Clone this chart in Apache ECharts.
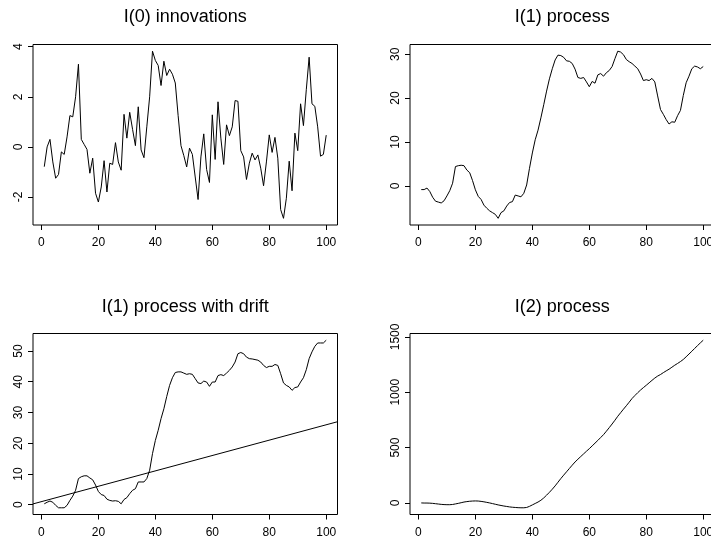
<!DOCTYPE html>
<html>
<head>
<meta charset="utf-8">
<script src="https://cdn.jsdelivr.net/npm/echarts@6/dist/echarts.min.js"></script>
<style>
  html, body { margin: 0; padding: 0; background: #fff; }
  #chart { width: 711px; height: 542px; }
</style>
</head>
<body>
<div id="chart"></div>
<script>
// Time index t = 1..100 shared by all four series
const timeIndex = Array.from({ length: 100 }, (_, i) => i + 1);

// White-noise innovations
const innovations = [
  -0.79, 0.0, 0.3, -0.6, -1.25, -1.1, -0.2, -0.3, 0.4, 1.25,
  1.2, 2.0, 3.3, 0.3, 0.1, -0.1, -1.05, -0.45, -1.85, -2.2,
  -1.6, -0.55, -1.8, -0.65, -0.7, 0.17, -0.6, -0.93, 1.3, 0.35,
  1.38, 0.7, 0.05, 1.6, -0.12, -0.43, 0.8, 2.0, 3.82, 3.45,
  3.25, 2.45, 3.42, 2.85, 3.1, 2.9, 2.55, 1.25, 0.05, -0.35,
  -0.8, -0.05, -0.3, -1.2, -2.1, -0.4, 0.52, -0.9, -1.42, 1.28,
  -0.5, 1.8, 0.35, -0.7, 0.88, 0.45, 0.8, 1.85, 1.82, -0.15,
  -0.4, -1.3, -0.65, -0.25, -0.52, -0.32, -0.85, -1.55, -0.6, 0.48,
  -0.22, 0.38, -0.45, -2.5, -2.85, -2.05, -0.57, -1.75, 0.55, -0.15,
  1.72, 0.85, 2.28, 3.58, 1.72, 1.62, 0.8, -0.37, -0.3, 0.47
];

// Random walk
const i1Process = [
  -0.85, -0.85, -0.5, -1.3, -2.6, -3.5, -3.7, -3.9, -3.4, -2.3,
  -1.1, 0.6, 4.4, 4.6, 4.7, 4.6, 3.6, 3.0, 1.2, -0.9,
  -2.4, -3.1, -4.4, -5.1, -5.7, -6.1, -6.5, -7.4, -6.1, -5.7,
  -4.6, -3.8, -3.6, -2.1, -2.3, -2.5, -1.7, 0.2, 4.0, 7.5,
  10.5, 12.7, 15.5, 18.5, 21.6, 24.4, 26.7, 28.7, 29.8, 29.7,
  29.3, 28.5, 28.4, 27.9, 26.6, 24.7, 24.5, 24.7, 23.7, 22.6,
  23.8, 23.4, 25.3, 25.6, 25.0, 25.8, 26.3, 27.2, 29.0, 30.7,
  30.5, 29.9, 28.8, 28.3, 27.9, 27.3, 26.7, 25.5, 24.0, 24.2,
  24.0, 24.5, 23.7, 20.5, 17.4, 16.3, 15.1, 14.1, 14.6, 14.5,
  16.0, 17.2, 20.6, 23.5, 25.0, 26.7, 27.3, 27.1, 26.7, 27.2
];

// Random walk with drift
const i1Drift = [
  0.3, 0.8, 1.2, 0.8, -0.2, -1.0, -1.0, -1.0, -0.2, 1.4,
  2.8, 4.7, 8.5, 9.1, 9.4, 9.4, 8.7, 8.1, 6.4, 4.3,
  3.3, 3.0, 1.8, 1.4, 1.2, 1.3, 1.1, 0.3, 1.7, 2.3,
  3.6, 4.7, 5.2, 7.4, 7.4, 7.4, 8.5, 11.2, 16.6, 20.9,
  24.2, 28.0, 31.2, 35.2, 38.8, 41.3, 43.0, 43.2, 43.2, 42.8,
  42.4, 42.6, 42.4, 41.0, 39.6, 39.4, 40.2, 39.9, 38.5, 39.9,
  39.9, 42.0, 42.3, 42.0, 42.8, 43.7, 44.8, 46.4, 49.1, 49.5,
  49.1, 48.0, 47.5, 47.4, 47.2, 47.0, 46.4, 45.3, 44.6, 45.0,
  45.0, 45.6, 45.3, 42.6, 39.6, 38.8, 38.3, 37.2, 38.1, 38.3,
  39.9, 41.3, 43.9, 47.5, 49.7, 51.5, 52.6, 52.6, 52.6, 53.5
];

// Straight reference line drawn over the drift panel
const driftLineIntercept = 1;
const driftLineSlope = 0.25;

// Integrated random walk
const i2Process = [
  0, -1, -1, -2, -4, -7, -10, -13, -15, -16,
  -16, -14, -9, -4, 2, 8, 12, 15, 17, 18,
  17, 14, 10, 5, 0, -6, -12, -18, -23, -28,
  -32, -36, -39, -41, -43, -44, -44, -41, -31, -18,
  -5, 8, 24, 45, 70, 96, 124, 154, 187, 220,
  251, 281, 311, 341, 370, 395, 419, 443, 467, 490,
  515, 540, 565, 591, 617, 648, 680, 713, 747, 783,
  815, 847, 878, 910, 943, 970, 996, 1020, 1042, 1063,
  1085, 1107, 1128, 1146, 1160, 1177, 1193, 1208, 1226, 1244,
  1260, 1277, 1296, 1320, 1345, 1370, 1396, 1421, 1446, 1470
];

// Tick positions
const xTicks = [0, 20, 40, 60, 80, 100];
const yTicksInnovations = [-2, 0, 2, 4];
const yTicksI1 = [0, 10, 20, 30];
const yTicksDrift = [0, 10, 20, 30, 40, 50];
const yTicksI2 = [0, 500, 1000, 1500];

// Panel titles
const panelTitles = ['I(0) innovations', 'I(1) process', 'I(1) process with drift', 'I(2) process'];

const FONT = "'Liberation Sans', Arial, Helvetica, sans-serif";

// Axis extent padded by 4% on each side, like base graphics
function paddedRange(values) {
  const lo = Math.min(...values);
  const hi = Math.max(...values);
  const pad = (hi - lo) * 0.04;
  return [lo - pad, hi + pad];
}

const xRange = paddedRange(timeIndex);

// Plot boxes (pixels)
const boxes = [
  { left: 33, top: 44.5, width: 304.5, height: 180.5 },
  { left: 410, top: 44.5, width: 304.5, height: 180.5 },
  { left: 33, top: 333.5, width: 304.5, height: 181 },
  { left: 410, top: 333.5, width: 304.5, height: 181 }
];
const titleTops = [8.5, 8.5, 298.5, 298.5];

const panels = [
  { values: innovations, yTicks: yTicksInnovations },
  { values: i1Process, yTicks: yTicksI1 },
  { values: i1Drift, yTicks: yTicksDrift },
  { values: i2Process, yTicks: yTicksI2 }
];

const plainNumber = v => String(v);

const grid = [], xAxis = [], yAxis = [], series = [], title = [];

panels.forEach((p, k) => {
  const b = boxes[k];
  grid.push({
    left: b.left, top: b.top, width: b.width, height: b.height,
    show: true, borderColor: '#000', borderWidth: 1,
    backgroundColor: 'transparent',
    containLabel: false, outerBoundsMode: 'none'
  });
  xAxis.push({
    type: 'value', gridIndex: k, position: 'bottom',
    min: xRange[0], max: xRange[1],
    axisLine: { show: false, onZero: false },
    splitLine: { show: false },
    axisTick: { show: true, inside: false, length: 5, customValues: xTicks,
                lineStyle: { color: '#000', width: 1 } },
    axisLabel: { show: true, customValues: xTicks, margin: 12, formatter: plainNumber,
                 color: '#000', fontSize: 12, fontFamily: FONT }
  });
  const yr = paddedRange(p.values);
  yAxis.push({
    type: 'value', gridIndex: k, position: 'left',
    min: yr[0], max: yr[1],
    axisLine: { show: false, onZero: false },
    splitLine: { show: false },
    axisTick: { show: true, inside: false, length: 5, customValues: p.yTicks,
                lineStyle: { color: '#000', width: 1 } },
    axisLabel: { show: true, customValues: p.yTicks, rotate: 90, margin: 8, formatter: plainNumber,
                 color: '#000', fontSize: 12, fontFamily: FONT }
  });
  series.push({
    type: 'line', xAxisIndex: k, yAxisIndex: k,
    data: timeIndex.map((t, i) => [t, p.values[i]]),
    showSymbol: false, symbol: 'none', silent: true,
    lineStyle: { color: '#000', width: 1 },
    clip: true
  });
  title.push({
    text: panelTitles[k],
    left: b.left + b.width / 2, top: titleTops[k],
    textAlign: 'center', padding: 0,
    textStyle: { fontFamily: FONT, fontSize: 18, fontWeight: 'normal', color: '#000' }
  });
});

// Reference line across the whole drift panel
series.push({
  type: 'line', xAxisIndex: 2, yAxisIndex: 2,
  data: xRange.map(x => [x, driftLineIntercept + driftLineSlope * x]),
  showSymbol: false, symbol: 'none', silent: true,
  lineStyle: { color: '#000', width: 1 },
  clip: true
});

const chart = echarts.init(document.getElementById('chart'), null, { renderer: 'canvas' });
chart.setOption({
  animation: false,
  backgroundColor: '#fff',
  title, grid, xAxis, yAxis, series
});
</script>
</body>
</html>
